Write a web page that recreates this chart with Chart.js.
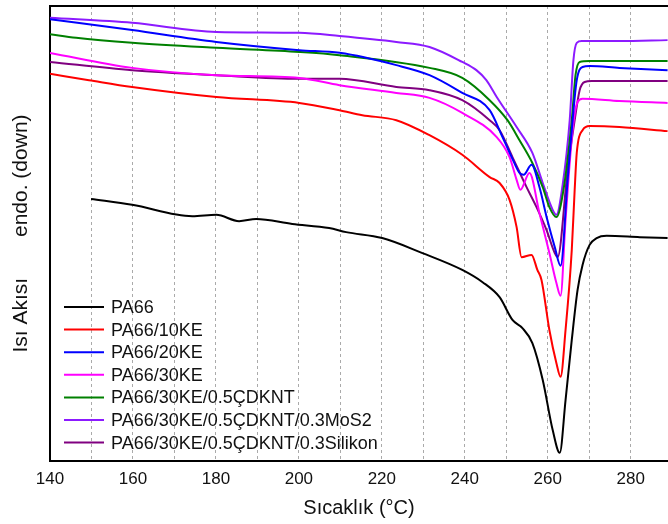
<!DOCTYPE html>
<html>
<head>
<meta charset="utf-8">
<script src="https://cdn.jsdelivr.net/npm/chart.js@4.4.1/dist/chart.umd.min.js"></script>
<style>
  html, body { margin: 0; padding: 0; background: #fff; }
</style>
</head>
<body>
<canvas id="dscChart" width="668" height="524"></canvas>
<script>
// DSC heating curves, heat flow in arbitrary units (endo down)
var labels = ['PA66', 'PA66/10KE', 'PA66/20KE', 'PA66/30KE', 'PA66/30KE/0.5ÇDKNT', 'PA66/30KE/0.5ÇDKNT/0.3MoS2', 'PA66/30KE/0.5ÇDKNT/0.3Silikon'];
var colors = ['#000000', '#ff0000', '#0000ff', '#ff00ff', '#008000', '#8c1aff', '#800080'];
var xTicks = [140, 160, 180, 200, 220, 240, 260, 280];

var tPA66 = [149.9, 159.8, 174.3, 180.1, 185.6, 189.7, 198.4, 207.3, 211.4, 220.1, 229.8, 239.4, 244.3, 248.4, 251.5, 253.9, 256.3, 258.8, 261.2, 262.9, 264.3, 265.8, 267.2, 268.4, 270.1, 271.8, 274.2, 282.2, 288.9];
var hPA66 = [5.76, 5.63, 5.38, 5.41, 5.27, 5.32, 5.21, 5.12, 5.03, 4.90, 4.57, 4.20, 3.93, 3.60, 3.10, 2.92, 2.59, 1.78, 0.68, 0.18, 1.34, 2.66, 3.76, 4.31, 4.75, 4.90, 4.95, 4.92, 4.90];

var t10KE = [140, 149.4, 159.8, 180.1, 200.1, 209.8, 215.3, 223.5, 231.5, 239.4, 246.0, 248.4, 250.8, 252.5, 253.7, 256.1, 257.5, 258.5, 260.4, 262.1, 263.1, 264.3, 265.8, 266.5, 267.0, 268.4, 270.1, 277.3, 288.9];
var h10KE = [8.51, 8.37, 8.22, 8.00, 7.87, 7.71, 7.60, 7.49, 7.16, 6.73, 6.24, 6.11, 5.74, 5.14, 4.48, 4.53, 4.20, 3.98, 2.88, 2.15, 1.85, 2.88, 4.64, 5.96, 6.77, 7.27, 7.36, 7.34, 7.25];

var t20KE = [140, 159.8, 180.1, 200.1, 209.8, 223.5, 231.5, 239.4, 246.0, 249.1, 251.3, 253.2, 254.2, 256.1, 258.0, 259.9, 261.7, 263.1, 264.8, 266.0, 267.0, 268.4, 270.1, 277.3, 288.9];
var h20KE = [9.71, 9.47, 9.21, 9.03, 8.97, 8.70, 8.48, 8.09, 7.71, 7.12, 6.68, 6.33, 6.29, 6.51, 6.02, 5.30, 4.70, 4.29, 6.18, 7.49, 8.37, 8.66, 8.68, 8.64, 8.59];

var t30KE = [140, 159.8, 180.1, 200.1, 209.8, 223.5, 231.5, 239.4, 247.7, 250.8, 252.5, 253.4, 255.6, 258.0, 260.4, 262.1, 263.1, 264.3, 266.0, 267.2, 268.4, 277.3, 288.9];
var h30KE = [8.97, 8.64, 8.48, 8.42, 8.26, 8.09, 7.98, 7.65, 7.12, 6.68, 6.18, 5.96, 6.33, 5.45, 4.57, 3.91, 3.63, 5.30, 7.27, 7.89, 7.96, 7.91, 7.87];

var tCNT = [140, 146.3, 159.8, 180.1, 200.1, 209.8, 231.5, 239.4, 246.0, 250.3, 253.2, 256.3, 258.8, 260.4, 262.1, 263.8, 265.8, 266.7, 267.7, 270.1, 288.9];
var hCNT = [9.38, 9.30, 9.19, 9.08, 8.99, 8.92, 8.64, 8.42, 7.93, 7.49, 7.05, 6.55, 6.02, 5.58, 5.36, 5.96, 7.49, 8.48, 8.77, 8.79, 8.79];

var tMoS2 = [140, 159.8, 180.1, 200.1, 209.8, 223.5, 231.5, 239.4, 242.8, 245.2, 247.7, 252.5, 256.3, 258.8, 261.2, 262.1, 263.6, 265.3, 266.2, 267.0, 268.2, 277.3, 288.9];
var hMoS2 = [9.74, 9.63, 9.43, 9.41, 9.34, 9.21, 9.10, 8.77, 8.59, 8.37, 8.00, 7.34, 6.77, 6.11, 5.52, 5.41, 6.07, 7.49, 8.81, 9.19, 9.23, 9.23, 9.25];

var tSil = [140, 159.8, 180.1, 200.1, 209.8, 223.5, 231.5, 239.4, 246.0, 248.4, 251.5, 254.9, 257.3, 259.7, 261.7, 262.4, 264.8, 266.5, 267.7, 268.9, 270.6, 288.9];
var hSil = [8.77, 8.59, 8.48, 8.40, 8.40, 8.22, 8.15, 7.93, 7.49, 7.27, 6.68, 6.02, 5.58, 5.08, 4.57, 4.48, 6.40, 7.49, 8.15, 8.33, 8.35, 8.35];

var temps = [tPA66, t10KE, t20KE, t30KE, tCNT, tMoS2, tSil];
var flows = [hPA66, h10KE, h20KE, h30KE, hCNT, hMoS2, hSil];

var fontFamily = "'Liberation Sans', Arial, sans-serif";

var datasets = labels.map(function(name, i) {
    return {
        label: name,
        data: temps[i].map(function(t, j) { return { x: t, y: flows[i][j] }; }),
        borderColor: colors[i],
        backgroundColor: colors[i],
        borderWidth: 2,
        pointRadius: 0,
        fill: false,
        cubicInterpolationMode: 'monotone'
    };
});

// top frame line + legend inside plot area
var framePlugin = {
    id: 'frameAndLegend',
    afterDraw: function(chart) {
        var ctx = chart.ctx;
        var area = chart.chartArea;
        ctx.save();
        ctx.strokeStyle = '#000';
        ctx.lineWidth = 2;
        ctx.beginPath();
        ctx.moveTo(area.left - 1, area.top);
        ctx.lineTo(area.right, area.top);
        ctx.stroke();

        var x0 = area.left + 14;
        var y0 = area.bottom - 154;
        var rowH = 22.6;
        ctx.font = '18px ' + fontFamily;
        ctx.textBaseline = 'middle';
        chart.data.datasets.forEach(function(ds, i) {
            var y = y0 + i * rowH;
            ctx.strokeStyle = ds.borderColor;
            ctx.lineWidth = 2;
            ctx.beginPath();
            ctx.moveTo(x0, y);
            ctx.lineTo(x0 + 40, y);
            ctx.stroke();
            ctx.fillStyle = '#111';
            ctx.fillText(ds.label, x0 + 47, y + 1);
        });
        ctx.restore();
    }
};

var ctx = document.getElementById('dscChart').getContext('2d');
var dscChart = new Chart(ctx, {
    type: 'line',
    data: { datasets: datasets },
    plugins: [framePlugin],
    options: {
        responsive: false,
        animation: false,
        layout: { padding: { top: 6, left: 0, right: 0, bottom: 0 } },
        plugins: {
            legend: { display: false },
            tooltip: { enabled: false }
        },
        scales: {
            x: {
                type: 'linear',
                min: 140,
                max: 289,
                afterFit: function(scale) { scale.height = 63; },
                ticks: {
                    stepSize: 10,
                    autoSkip: false,
                    includeBounds: false,
                    maxRotation: 0,
                    padding: 8,
                    color: '#111',
                    font: { size: 17, family: fontFamily },
                    callback: function(value) {
                        return xTicks.indexOf(value) >= 0 ? value : '';
                    }
                },
                grid: { color: '#aaaaaa', lineWidth: 1, drawTicks: false },
                border: { display: true, color: '#000', width: 2, dash: [3, 3] },
                title: {
                    display: true,
                    text: 'Sıcaklık (°C)',
                    color: '#111',
                    font: { size: 20, family: fontFamily },
                    padding: { top: 0, bottom: 4 }
                }
            },
            y: {
                min: 0,
                max: 10,
                afterFit: function(scale) { scale.width = 50; },
                ticks: { display: false },
                grid: { display: false, drawTicks: false },
                border: { display: true, color: '#000', width: 2 },
                title: {
                    display: true,
                    text: 'Isı Akısı       endo. (down)',
                    color: '#111',
                    font: { size: 21, family: fontFamily },
                    padding: { top: 9, bottom: 0 }
                }
            }
        }
    }
});
</script>
</body>
</html>
